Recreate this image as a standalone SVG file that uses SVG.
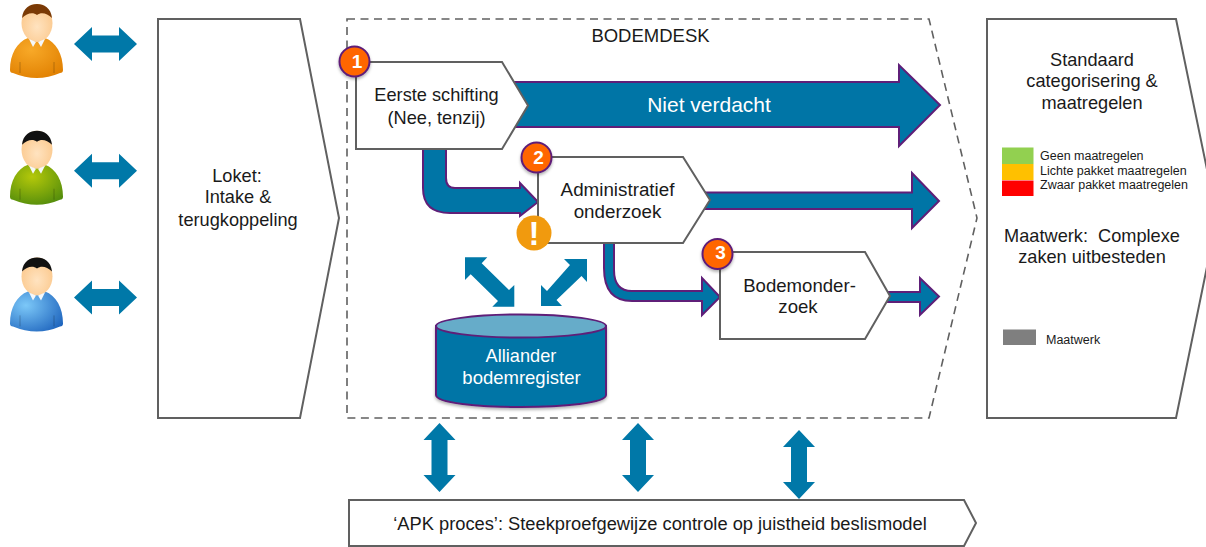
<svg xmlns="http://www.w3.org/2000/svg" width="1206" height="547" viewBox="0 0 1206 547">
<style>
text{font-family:"Liberation Sans",Arial,sans-serif;font-size:18.200px;fill:#1a1a1a;text-anchor:middle;white-space:pre}
.box{fill:#fff;stroke:#606060;stroke-width:2}
.dash{fill:none;stroke:#606060;stroke-width:1.600;stroke-dasharray:8 5.500}
.flow{fill:#0075a6;stroke:#5f1f78;stroke-width:2}
.dbl{fill:#0078a8}
.badge{fill:#ff6600;stroke:#5f1f78;stroke-width:2;filter:url(#sh)}
.num{fill:#fff;font-weight:bold;font-size:19px}
.w{fill:#fff}
.leg{font-size:12.500px;text-anchor:start}
.hd{fill:url(#skin)}
.cl{fill:#f4f8fb}
.arm{fill:none;stroke:#000;stroke-opacity:.22;stroke-width:1}
</style>
<defs>
<filter id="sh" x="-20%" y="-20%" width="140%" height="150%"><feDropShadow dx="0" dy="2" stdDeviation="1.500" flood-color="#000" flood-opacity=".3"/></filter>
<radialGradient id="skin" cx=".5" cy=".6" r=".6"><stop offset="0" stop-color="#ffe3c0"/><stop offset="1" stop-color="#fbc88c"/></radialGradient>
<radialGradient id="orange" cx=".4" cy=".3" r=".8"><stop offset="0" stop-color="#f8a928"/><stop offset="1" stop-color="#e07f00"/></radialGradient>
<radialGradient id="green" cx=".42" cy=".3" r=".8"><stop offset="0" stop-color="#b4c80a"/><stop offset="1" stop-color="#4f8a0c"/></radialGradient>
<radialGradient id="blue" cx=".3" cy=".35" r=".85"><stop offset="0" stop-color="#7cc8f8"/><stop offset="1" stop-color="#1c62bc"/></radialGradient>
<path id="dh" d="M0,0 L18,-17 V-8.500 H45 V-17 L63,0 L45,17 V8.500 H18 V17 Z"/>
<path id="dv" d="M0,0 L16,17 H8 V52 H16 L0,69 L-16,52 H-8 V17 H-16 Z"/>
</defs>

<g id="person-1">
<path d="M28,38 L45,38 C56,42 63,54 63,70 Q63,73 60,73 Q37,83 13,73 Q10,73 10,70 C10,54 17,42 28,38 Z" fill="url(#orange)"/>
<path class="arm" d="M20,62 V73 M54,62 V73"/>
<ellipse class="hd" cx="37" cy="23" rx="15.500" ry="19"/>
<path d="M22,18 C23,8 30,4 37,4 C44,4 51,8 52,18 C47,13 41,12 37,15 C33,12 27,13 22,18 Z" fill="#7a3a06"/>
<path class="cl" d="M29,39 L36,42 L33,47 Z M45,39 L38,42 L41,47 Z"/>
</g>
<g id="person-2" transform="translate(0 126.700)">
<path d="M28,38 L45,38 C56,42 63,54 63,70 Q63,73 60,73 Q37,83 13,73 Q10,73 10,70 C10,54 17,42 28,38 Z" fill="url(#green)"/>
<path class="arm" d="M20,62 V73 M54,62 V73"/>
<ellipse class="hd" cx="37" cy="23" rx="15.500" ry="19"/>
<path d="M22,18 C23,8 30,4 37,4 C44,4 51,8 52,18 C47,13 41,12 37,15 C33,12 27,13 22,18 Z" fill="#111"/>
<path class="cl" d="M29,39 L36,42 L33,47 Z M45,39 L38,42 L41,47 Z"/>
</g>
<g id="person-3" transform="translate(0 253.400)">
<path d="M28,38 L45,38 C56,42 63,54 63,70 Q63,73 60,73 Q37,83 13,73 Q10,73 10,70 C10,54 17,42 28,38 Z" fill="url(#blue)"/>
<path class="arm" d="M20,62 V73 M54,62 V73"/>
<ellipse class="hd" cx="37" cy="23" rx="15.500" ry="19"/>
<path d="M22,18 C23,8 30,4 37,4 C44,4 51,8 52,18 C47,13 41,12 37,15 C33,12 27,13 22,18 Z" fill="#111"/>
<path class="cl" d="M29,39 L36,42 L33,47 Z M45,39 L38,42 L41,47 Z"/>
</g>

<g id="loket">
<path class="box" d="M158,19 H300 L339,218 L300,418 H158 Z"/>
<text x="237" y="182">Loket:</text>
<text x="238" y="203">Intake &amp;</text>
<text x="238" y="226">terugkoppeling</text>
</g>

<g id="bodemdesk">
<path class="dash" d="M347,19 H929 L977,218 L929,418 H347 Z"/>
<text x="650.500" y="42" style="font-size:18.500px">BODEMDESK</text>
</g>

<g id="uitkomst">
<path class="box" d="M987,19 H1176 L1217,218 L1176,418 H987 Z"/>
<text x="1092" y="66">Standaard</text>
<text x="1092" y="87">categorisering &amp;</text>
<text x="1092" y="109">maatregelen</text>
<rect x="1002" y="147.500" width="31.500" height="16.500" fill="#92d050"/>
<rect x="1002" y="164" width="31.500" height="16" fill="#ffc000"/>
<rect x="1002" y="180.500" width="31.500" height="15.500" fill="#ff0000"/>
<text class="leg" x="1040" y="160">Geen maatregelen</text>
<text class="leg" x="1040" y="174.500">Lichte pakket maatregelen</text>
<text class="leg" x="1040" y="189">Zwaar pakket maatregelen</text>
<text x="1092" y="241.500">Maatwerk:  Complexe</text>
<text x="1092" y="263">zaken uitbesteden</text>
<rect x="1003" y="329.500" width="33" height="15.500" fill="#7f7f7f"/>
<text class="leg" x="1046" y="344">Maatwerk</text>
</g>

<g id="connectors">
<use class="dbl" href="#dh" x="74" y="44"/>
<use class="dbl" href="#dh" x="74" y="170.700"/>
<use class="dbl" href="#dh" x="74" y="297.500"/>
<use class="dbl" href="#dv" x="439.500" y="423"/>
<use class="dbl" href="#dv" x="638" y="423"/>
<use class="dbl" href="#dv" x="799" y="430"/>
<path class="dbl" d="M465,257.300 H487.300 L481.700,263.300 L509,290 L514.300,285 V306.700 H492.300 L498,301 L470.700,274.300 L465,280 Z"/>
<path class="dbl" d="M587,259 H564 L570,265 L547,291 L541,285 V306 H562 L556.500,300 L581.500,276 L587,282 Z"/>
<path class="flow" d="M510,82 H899 V65 L940,105 L899,146 V127 H510 Z"/>
<path class="flow" d="M423,149 V188 Q423,213 450,213 H520 V216 L538,202 L520,183 V188 H455 Q446,188 446,178 V149 Z"/>
<path class="flow" d="M700,192.500 H912 V173 L939,201 L912,228 V209 H700 Z"/>
<path class="flow" d="M604,243 V268 Q604,301 632,301 H702 V315 L720,297 L702,278 V291 H632 Q614,291 614,270 V243 Z"/>
<path class="flow" d="M885,292 H920 V278 L939,296.500 L920,315 V302 H885 Z"/>
<text class="w" x="709" y="112" style="font-size:21px">Niet verdacht</text>
</g>

<g id="stap-1">
<path class="box" d="M356,62 H502 L528,105.500 L502,149 H356 Z"/>
<text x="436.500" y="101">Eerste schifting</text>
<text x="436.500" y="124">(Nee, tenzij)</text>
<circle class="badge" cx="354.500" cy="61.500" r="15"/>
<text class="num" x="357" y="68">1</text>
</g>

<g id="stap-2">
<path class="box" d="M538,157 H683 L710,200 L683,243 H538 Z"/>
<text x="617.500" y="196" style="font-size:18.800px">Administratief</text>
<text x="617.500" y="218" style="font-size:18.800px">onderzoek</text>
<circle class="badge" cx="536.500" cy="157.500" r="15"/>
<text class="num" x="538.500" y="164">2</text>
<circle id="waarschuwing" cx="534" cy="233" r="17.500" fill="#f19a0e"/>
<text x="534" y="245" style="font-size:33px;font-weight:bold;fill:#fff">!</text>
</g>

<g id="stap-3">
<path class="box" d="M720,252 H865 L890,296 L865,339 H720 Z"/>
<text x="799.500" y="292" style="font-size:18.600px">Bodemonder-</text>
<text x="798" y="313" style="font-size:18.600px">zoek</text>
<circle class="badge" cx="717.500" cy="254" r="15"/>
<text class="num" x="720.500" y="259">3</text>
</g>

<g id="register">
<path d="M436,326 V395 C436,411 606,411 606,395 V326 Z" fill="#0075a6" stroke="#5f1f78" stroke-width="2" filter="url(#sh)"/>
<ellipse cx="521" cy="326" rx="85" ry="11.500" fill="#66acc9" stroke="#5f1f78" stroke-width="2"/>
<text class="w" x="521" y="362">Alliander</text>
<text class="w" x="521.500" y="384" style="font-size:18.500px">bodemregister</text>
</g>

<g id="apk">
<path class="box" d="M349,500 H964 L976,523 L964,546 H349 Z"/>
<text x="660" y="530" style="font-size:18.300px">‘APK proces’: Steekproefgewijze controle op juistheid beslismodel</text>
</g>
</svg>
